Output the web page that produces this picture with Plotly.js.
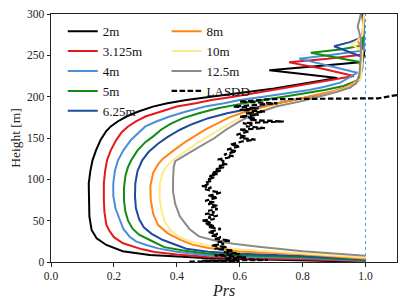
<!DOCTYPE html>
<html><head><meta charset="utf-8">
<script src="https://cdn.plot.ly/plotly-3.0.1.min.js"></script>
<style>html,body{margin:0;padding:0;background:#fff}#chart{width:407px;height:305px}</style>
</head><body><div id="chart"></div>
<script>
// ---- data ----
const names = ["2m","3.125m","4m","5m","6.25m","8m","10m","12.5m"];
const colors = ["#000000","#e4191c","#4a8fd6","#138a13","#1c4c9e","#ff8515","#ffe98c","#8a8a8a"];

const x2m   = [1.0,0.8,0.6,0.5,0.418,0.314,0.228,0.176,0.145,0.129,0.122,0.12,0.12,0.125,0.132,0.143,0.158,0.175,0.19,0.212,0.24,0.278,0.324,0.37,0.43,0.49,0.557,0.63,0.71,0.77,0.835,0.91,0.80,0.694,0.85,0.99,0.995,0.995,0.99];
const y2m   = [0.3,2.2,3.3,4.5,6.4,8.5,13,20.6,28.6,38.7,55,75,95,110,123,135,148,158,164,170,176,182,188,192,196,199,202,206,210,214,218,222.5,227.5,232,237,242,250,270,300];

const x3m   = [1.0,0.8,0.6,0.5,0.40,0.33,0.29,0.25,0.229,0.2,0.185,0.176,0.17,0.168,0.168,0.172,0.178,0.19,0.208,0.225,0.245,0.27,0.30,0.35,0.40,0.46,0.51,0.58,0.64,0.71,0.77,0.83,0.89,0.963,0.86,0.757,0.88,0.99,0.995,0.995];
const y3m   = [1.0,3.4,4.6,6,9,12,15.3,19.5,22.6,30,38,45,60,75,95,110,123,135,148,157,164,170,176,182,188,192,196,200,204,208,212,216,220,225,234,241.5,246,251,270,300];

const x4m   = [1.0,0.8,0.6,0.5,0.40,0.34,0.303,0.27,0.25,0.23,0.219,0.205,0.198,0.198,0.203,0.213,0.23,0.255,0.28,0.30,0.335,0.377,0.43,0.49,0.55,0.60,0.675,0.75,0.82,0.87,0.92,0.974,0.88,0.789,0.9,0.995,0.995];
const y4m   = [1.6,4.8,6.3,8,12.5,16.5,20.6,25,30.6,40,50.8,65,80,95,110,123,135,148,157,164,170,176,182,188,192,196,200,204,208,212,217,229,238,246,251,256,300];

const x5m   = [1.0,0.8,0.6,0.5,0.42,0.36,0.314,0.28,0.26,0.245,0.236,0.232,0.232,0.237,0.245,0.255,0.275,0.30,0.325,0.35,0.38,0.42,0.47,0.53,0.60,0.67,0.74,0.81,0.87,0.93,0.975,0.985,0.98,0.826,0.92,0.99,0.995];
const y5m   = [2.2,6,8.2,10,14,18,26.6,33,40,50,62,75,90,105,115,123,135,145,152,160,167,174,180,186,191,196,200,204,208,213,220,232,242,253,257,262,300];

const x6m   = [1.0,0.8,0.6,0.5,0.43,0.356,0.32,0.295,0.28,0.27,0.267,0.268,0.275,0.29,0.31,0.34,0.37,0.41,0.45,0.50,0.56,0.62,0.69,0.76,0.83,0.89,0.95,0.98,0.99,0.99,0.9,0.95,0.99,0.995];
const y6m   = [3,7.3,10,12.5,16,26.6,34,42,52,65,80,95,110,123,133,143,151,160,167,174,180,185,190,195,200,205,211,220,235,248,261,266,272,300];

const x8m   = [1.0,0.8,0.6,0.5,0.45,0.41,0.37,0.34,0.325,0.317,0.316,0.325,0.34,0.356,0.39,0.43,0.49,0.53,0.567,0.62,0.67,0.72,0.77,0.85,0.90,0.94,0.975,0.985,0.99,0.975,0.99,0.995];
const y8m   = [4,9.3,12.8,17,21,27,35,45,58,75,92,108,118,125,135,146,160,168,175,182,187,192,196,203,207,212,220,235,255,268,276,300];

const x10m  = [1.0,0.8,0.6,0.5,0.45,0.41,0.38,0.36,0.35,0.345,0.346,0.355,0.37,0.39,0.43,0.47,0.535,0.57,0.61,0.66,0.715,0.76,0.81,0.885,0.93,0.96,0.985,0.99,0.99,0.955,0.975,0.99,0.995];
const y10m  = [5.5,10.5,15,20,24,30,38,50,65,80,95,108,117,124,135,145,160,168,176,182,188,192,196,204,209,214,222,245,255,263.5,268,274,300];

const x12m  = [1.0,0.8,0.66,0.58,0.52,0.47,0.44,0.41,0.395,0.388,0.388,0.39,0.395,0.42,0.47,0.52,0.556,0.60,0.64,0.715,0.79,0.85,0.91,0.95,0.97,0.98,0.985,0.985,0.975,0.985];
const y12m  = [7.5,13,18.5,22,26,31,40,55,70,85,100,115,122,128,139,150,160,170,178,188,194,200,206,211,216,225,250,270,285,300];

const lasddName = "LASDD";
const xLasdd = [0.44,0.60,0.48,0.69,0.55,0.62,0.52,0.60,0.55,0.58,0.52,0.56,0.51,0.55,0.53,0.57,0.52,0.54,0.51,0.53,0.50,0.52,0.54,0.50,0.52,0.49,0.51,0.48,0.52,0.50,0.53,0.49,0.52,0.50,0.53,0.51,0.53,0.50,0.52,0.49,0.51,0.53,0.50,0.52,0.54,0.51,0.49,0.51,0.48,0.50,0.49,0.51,0.50,0.52,0.50,0.53,0.51,0.54,0.52,0.55,0.53,0.56,0.54,0.55,0.53,0.56,0.58,0.55,0.57,0.59,0.56,0.58,0.60,0.57,0.59,0.61,0.65,0.60,0.62,0.59,0.61,0.63,0.60,0.68,0.62,0.64,0.61,0.74,0.63,0.65,0.60,0.66,0.62,0.68,0.60,0.66,0.58,0.64,0.72,0.60,0.66,0.70,1.04,1.10];
const yLasdd = [0.5,1,1.5,2.5,4,6,8,10,12,14,16,18,20,22,24,26,28,30,32,34,36,38,40,42,44,46,48,50,52,54,56,58,60,62,64,66,68,70,72,74,76,78,80,82,84,86,88,90,92,94,96,98,100,102,104,106,108,110,112,114,116,118,120,122,124,126,128,130,132,134,136,138,140,142,144,146,148,150,152,154,156,158,160,162,164,166,168,170,172,174,176,178,180,182,184,186,188,190,192,194,196,197,198,202];

const refX = [1.0, 1.0];
const refY = [0, 300];

const xTicks = [0.0,0.2,0.4,0.6,0.8,1.0];
const yTicks = [0,50,100,150,200,250,300];

// ---- build ----
const xs = [x2m,x3m,x4m,x5m,x6m,x8m,x10m,x12m];
const ys = [y2m,y3m,y4m,y5m,y6m,y8m,y10m,y12m];
const FONT = "Liberation Serif";

const traces = [];
traces.push({x: refX, y: refY, mode:'lines', showlegend:false, hoverinfo:'skip',
  line:{color:'#4f9be0', width:1, dash:'dot'}});
for (let i = 0; i < names.length; i++) {
  traces.push({x: xs[i], y: ys[i], mode:'lines', name: names[i],
    legend: i < 5 ? 'legend' : 'legend2',
    line:{color: colors[i], width:2}});
}
traces.push({x: xLasdd, y: yLasdd, mode:'lines', name: lasddName, legend:'legend2',
  line:{color:'#000', width:2.2, dash:'5.5px,2.5px'}});

const legendBase = {xanchor:'left', yanchor:'top', bgcolor:'rgba(0,0,0,0)',
  borderwidth:0, font:{family:FONT, size:13, color:'#111'}, tracegroupgap:0,
  itemwidth:30, traceorder:'normal'};

const layout = {
  width:407, height:305,
  margin:{l:51, r:10, t:14, b:43},
  paper_bgcolor:'#fff', plot_bgcolor:'#fff',
  font:{family:FONT, size:11, color:'#000'},
  showlegend:true,
  legend: Object.assign({}, legendBase, {x:0.034, y:0.991}),
  legend2: Object.assign({}, legendBase, {x:0.334, y:0.991}),
  xaxis:{range:[0,1.1], tickvals:xTicks, ticktext:xTicks.map(v=>v.toFixed(1)),
    showgrid:false, zeroline:false, showline:true, mirror:true, linecolor:'#222', linewidth:1,
    ticks:'outside', ticklen:3.5, tickcolor:'#222', tickfont:{family:FONT,size:11.5,color:'#222'},
    title:{text:'<i>Prs</i>', font:{family:FONT,size:16,color:'#222'}, standoff:0}},
  yaxis:{range:[0,300], tickvals:yTicks,
    showgrid:false, zeroline:false, showline:true, mirror:true, linecolor:'#222', linewidth:1,
    ticks:'outside', ticklen:3.5, tickcolor:'#222', tickfont:{family:FONT,size:11.5,color:'#222'},
    title:{text:'Height [m]', font:{family:FONT,size:13.5,color:'#222'}, standoff:3}}
};

Plotly.newPlot('chart', traces, layout, {displayModeBar:false, staticPlot:true});
</script></body></html>
